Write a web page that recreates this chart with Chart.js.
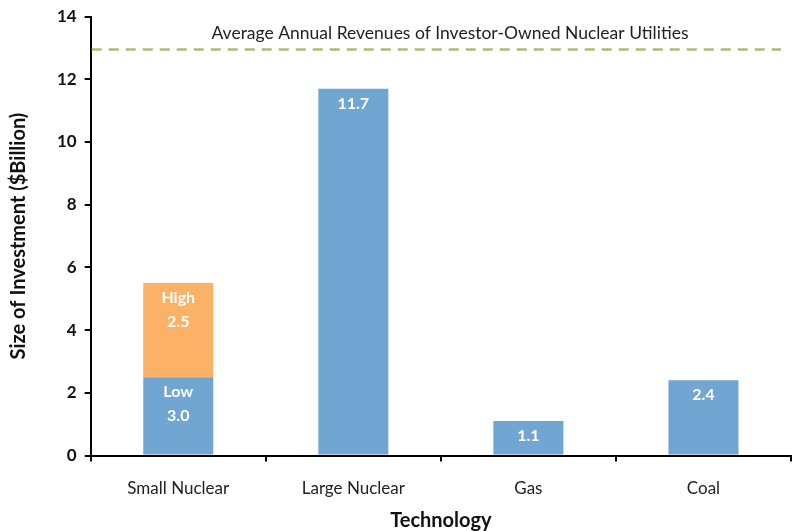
<!DOCTYPE html>
<html>
<head>
<meta charset="utf-8">
<script src="https://cdn.jsdelivr.net/npm/chart.js@4.4.0/dist/chart.umd.min.js"></script>
<style>
  html, body { margin: 0; padding: 0; background: #fff; }
  #wrap { width: 792px; height: 531px; }
</style>
</head>
<body>
<div id="wrap"><canvas id="chart" width="792" height="531"></canvas></div>
<script>
// chart data
const categories = ['Small Nuclear', 'Large Nuclear', 'Gas', 'Coal'];
const lowValues = [2.5, 11.7, 1.1, 2.4];
const highValues = [3.0, null, null, null];
const lowLabels = [['Low', '3.0'], ['11.7'], ['1.1'], ['2.4']];
const highLabels = [['High', '2.5'], [], [], []];
const yTicks = [0, 2, 4, 6, 8, 10, 12, 14];
const revenueLine = 12.95;
const revenueText = 'Average Annual Revenues of Investor-Owned Nuclear Utilities';

const FONT = 'Lato, "Open Sans", sans-serif';

// draws the dashed reference line, its caption and the labels inside the bars
const overlay = {
  id: 'overlay',
  afterDatasetsDraw(chart) {
    const ctx = chart.ctx;
    const y = chart.scales.y;
    const area = chart.chartArea;

    const ly = y.getPixelForValue(revenueLine);
    ctx.save();
    ctx.strokeStyle = '#a6bf78';
    ctx.lineWidth = 2.5;
    ctx.setLineDash([10, 7]);
    ctx.beginPath();
    ctx.moveTo(area.left + 1, ly);
    ctx.lineTo(area.right - 10, ly);
    ctx.stroke();
    ctx.setLineDash([]);

    ctx.fillStyle = '#222';
    ctx.font = '17.5px ' + FONT;
    ctx.textAlign = 'center';
    ctx.textBaseline = 'middle';
    ctx.fillText(revenueText, 450, ly - 16);

    ctx.fillStyle = '#fff';
    ctx.font = 'bold 16px ' + FONT;
    [[0, lowLabels], [1, highLabels]].forEach(([di, labels]) => {
      const meta = chart.getDatasetMeta(di);
      meta.data.forEach((bar, i) => {
        const lines = labels[i];
        if (!lines || !lines.length) return;
        lines.forEach((t, k) => {
          ctx.fillText(t, bar.x, bar.y + 15 + k * 24);
        });
      });
    });
    ctx.restore();
  }
};

new Chart(document.getElementById('chart'), {
  type: 'bar',
  data: {
    labels: categories,
    datasets: [
      { label: 'Low', data: lowValues, backgroundColor: '#72a6d2', categoryPercentage: 0.4, barPercentage: 1 },
      { label: 'High', data: highValues, backgroundColor: '#fbb267', categoryPercentage: 0.4, barPercentage: 1 }
    ]
  },
  options: {
    responsive: false,
    animation: false,
    layout: { padding: { top: 3, right: 1, left: 3, bottom: -2 } },
    plugins: { legend: { display: false }, tooltip: { enabled: false } },
    scales: {
      x: {
        stacked: true,
        border: { color: '#000', width: 2 },
        grid: { drawOnChartArea: false, color: '#000', lineWidth: 2, tickLength: 6, offset: true },
        ticks: { color: '#222', font: { family: FONT, size: 17 }, padding: 17 },
        title: { display: true, text: 'Technology', color: '#111', font: { family: FONT, size: 20, weight: 'bold' }, padding: { top: -7, bottom: 0 } }
      },
      y: {
        stacked: true,
        min: 0, max: 14,
        afterBuildTicks(axis) { axis.ticks = yTicks.map(v => ({ value: v })); },
        border: { color: '#000', width: 2 },
        grid: { drawOnChartArea: false, color: '#000', lineWidth: 2, tickLength: 6 },
        ticks: { color: '#111', font: { family: FONT, size: 17, weight: 'bold', lineHeight: 1 }, padding: 8 },
        title: { display: true, text: 'Size of Investment ($Billion)', color: '#111', font: { family: FONT, size: 20, weight: 'bold' }, padding: { bottom: 18 } }
      }
    }
  },
  plugins: [overlay]
});
</script>
</body>
</html>
